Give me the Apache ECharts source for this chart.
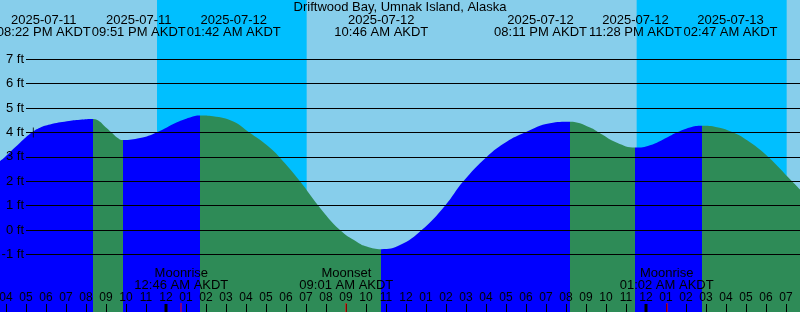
<!DOCTYPE html>
<html><head><meta charset="utf-8">
<script src="https://cdn.jsdelivr.net/npm/echarts@6/dist/echarts.min.js"></script>
<style>html,body{margin:0;padding:0;background:#87CEEB}#c{width:800px;height:312px}</style>
</head><body><div id="c"></div>
<script>
const chartTitle = 'Driftwood Bay, Umnak Island, Alaska';
const curveTimes = [
'2025-07-11 15:42','2025-07-11 15:57','2025-07-11 16:42','2025-07-11 17:17','2025-07-11 17:42','2025-07-11 18:12','2025-07-11 19:03','2025-07-11 19:42','2025-07-11 20:22',
'2025-07-11 20:42','2025-07-11 20:52','2025-07-11 21:17','2025-07-11 21:33','2025-07-11 21:51',
'2025-07-11 22:42','2025-07-11 23:32','2025-07-12 00:33','2025-07-12 01:12','2025-07-12 01:42',
'2025-07-12 02:21','2025-07-12 03:22','2025-07-12 04:10','2025-07-12 05:02','2025-07-12 05:40','2025-07-12 06:42','2025-07-12 07:37','2025-07-12 08:42','2025-07-12 09:32','2025-07-12 10:02','2025-07-12 10:46',
'2025-07-12 11:42','2025-07-12 12:47','2025-07-12 13:57','2025-07-12 14:52','2025-07-12 16:02','2025-07-12 17:02','2025-07-12 17:57','2025-07-12 19:12','2025-07-12 20:11',
'2025-07-12 21:12','2025-07-12 21:42','2025-07-12 22:33','2025-07-12 23:28',
'2025-07-13 00:12','2025-07-13 01:03','2025-07-13 01:32','2025-07-13 02:12','2025-07-13 02:47',
'2025-07-13 03:33','2025-07-13 04:22','2025-07-13 05:12','2025-07-13 06:07','2025-07-13 07:18','2025-07-13 07:42'];
const curveLevels = [2.83,3.0,3.58,4.0,4.20,4.33,4.46,4.52,4.55,
4.44,4.31,4.0,3.80,3.69,
3.77,4.0,4.42,4.62,4.70,
4.67,4.45,4.0,3.49,3.0,2.0,1.0,0.0,-0.48,-0.68,-0.79,
-0.62,0.0,1.0,2.0,3.0,3.62,4.0,4.38,4.44,
4.21,3.97,3.58,3.38,
3.48,3.80,4.0,4.21,4.28,
4.22,4.0,3.60,3.0,2.0,1.66];
const tideTimes = ['2025-07-11 20:22','2025-07-11 21:51','2025-07-12 01:42','2025-07-12 10:46','2025-07-12 20:11','2025-07-12 23:28','2025-07-13 02:47'];
const tideTypes = ['H','L','H','L','H','L','H'];
const nightStarts = ['2025-07-11 23:33','2025-07-12 23:32'];
const nightEnds = ['2025-07-12 07:02','2025-07-13 07:02'];
const moonTimes = ['2025-07-12 00:46','2025-07-12 09:01','2025-07-13 01:02'];
const moonEvents = ['Moonrise','Moonset','Moonrise'];
const midnights = ['2025-07-12 00:00','2025-07-13 00:00'];
const nowPoint = ['2025-07-11 17:22', 4.0];
const timeMin = '2025-07-11 15:42', timeMax = '2025-07-13 07:42';
const unitSuffix = ' ft', zoneName = 'AKDT';

const ts = s => new Date(s.replace(' ', 'T')).getTime();
const pad = n => (n < 10 ? '0' : '') + n;
function fmtTime(v) {
  const d = new Date(v); let h = d.getHours(); const ap = h < 12 ? 'AM' : 'PM';
  h = h % 12 || 12; return pad(h) + ':' + pad(d.getMinutes()) + ' ' + ap + ' ' + zoneName;
}
const FONT = '"Liberation Sans", Arial, Helvetica, sans-serif';
const BLUE = '#0000FF', GREEN = '#2E8B57', NIGHT = '#00BFFF', SKY = '#87CEEB';

const tideTs = tideTimes.map(ts);
const pieces = [];
for (let i = 0; i < tideTs.length; i++) {
  const p = { lt: tideTs[i], color: tideTypes[i] === 'H' ? BLUE : GREEN };
  if (i > 0) p.gte = tideTs[i - 1];
  pieces.push(p);
}
pieces.push({ gte: tideTs[tideTs.length - 1], color: tideTypes[tideTs.length - 1] === 'H' ? GREEN : BLUE });

function spread(xs, W) {
  let cl = xs.map((x, i) => ({ idx: [i], sum: x }));
  let changed = true;
  while (changed) {
    changed = false;
    for (let k = 0; k < cl.length - 1; k++) {
      const a = cl[k], b = cl[k + 1];
      const ac = a.sum / a.idx.length, bc = b.sum / b.idx.length;
      if (ac + a.idx.length * W / 2 > bc - b.idx.length * W / 2) {
        cl.splice(k, 2, { idx: a.idx.concat(b.idx), sum: a.sum + b.sum }); changed = true; break;
      }
    }
  }
  const out = [];
  cl.forEach(c => { const n = c.idx.length, cen = c.sum / n; c.idx.forEach((i, j) => { out[i] = cen + (j - (n - 1) / 2) * W; }); });
  return out;
}

const chart = echarts.init(document.getElementById('c'), null, { renderer: 'canvas' });
const txt = (text, x, y) => ({ type: 'text', style: { text, x, y, textAlign: 'center', textVerticalAlign: 'middle', font: '13px ' + FONT, fill: '#000' } });

chart.setOption({
  backgroundColor: SKY,
  animation: false,
  title: { text: chartTitle, left: 'center', top: 0, padding: 0, textStyle: { fontSize: 13, fontWeight: 'normal', color: '#000', fontFamily: FONT, lineHeight: 14 } },
  grid: [
    { left: 0, right: 0, top: 0, bottom: 0, containLabel: false, outerBoundsMode: 'none' },
    { left: 26, right: 0, top: 59.3, bottom: 57.7, containLabel: false, outerBoundsMode: 'none' }
  ],
  xAxis: [
    { type: 'time', gridIndex: 0, min: timeMin, max: timeMax, minInterval: 3600000, maxInterval: 3600000, z: 5,
      axisLine: { show: false, onZero: false }, splitLine: { show: false },
      axisTick: { show: true, inside: true, length: 8, lineStyle: { color: '#000', width: 1 } },
      axisLabel: { inside: true, margin: 8, color: '#000', fontSize: 12, fontFamily: FONT, hideOverlap: false,
        formatter: v => { const d = new Date(v); if (d.getMinutes() !== 0) return ''; return pad(d.getHours() % 12 || 12); } } },
    { type: 'value', gridIndex: 1, min: 0, max: 1, show: false, axisLine: { onZero: false } }
  ],
  yAxis: [
    { type: 'value', gridIndex: 0, min: -3.364, max: 9.436, show: false, splitLine: { show: false } },
    { type: 'value', gridIndex: 1, min: -1, max: 7, interval: 1, z: 5,
      axisLine: { show: false, onZero: false }, axisTick: { show: false },
      axisLabel: { formatter: '{value}' + unitSuffix, margin: 2, color: '#000', fontSize: 13, fontFamily: FONT },
      splitLine: { show: true, lineStyle: { color: '#000', width: 1 } } }
  ],
  visualMap: { type: 'piecewise', show: false, dimension: 0, seriesIndex: 1, pieces },
  series: [
    { type: 'line', xAxisIndex: 0, yAxisIndex: 0, data: [], z: 1, silent: true,
      markArea: { silent: true, itemStyle: { color: NIGHT, opacity: 1 },
        data: nightStarts.map((s, i) => [{ xAxis: ts(s) }, { xAxis: ts(nightEnds[i]) }]) } },
    { type: 'line', xAxisIndex: 0, yAxisIndex: 0, z: 2, silent: true, symbol: 'none', smooth: 0.45,
      data: curveTimes.map((t, i) => [ts(t), curveLevels[i]]),
      lineStyle: { width: 0 }, areaStyle: { opacity: 1, origin: 'start' } },
    { type: 'custom', xAxisIndex: 0, yAxisIndex: 0, z: 6, silent: true,
      data: midnights.map(s => [ts(s), 0]),
      renderItem: (params, api) => {
        const x = api.coord([api.value(0), 0])[0]; const cs = params.coordSys; const b = cs.y + cs.height;
        return { type: 'rect', shape: { x: Math.round(x) - 1.5, y: b - 8, width: 3, height: 8 }, style: { fill: '#000' } };
      } },
    { type: 'custom', xAxisIndex: 0, yAxisIndex: 0, z: 6, silent: true,
      data: moonTimes.map(s => [ts(s), 0]),
      renderItem: (params, api) => {
        const i = params.dataIndex;
        const x = api.coord([api.value(0), 0])[0]; const cs = params.coordSys; const b = cs.y + cs.height;
        return { type: 'group', children: [
          { type: 'rect', shape: { x: Math.round(x) - 0.5, y: b - 9, width: 1, height: 9 }, style: { fill: '#FF0000' } },
          txt(moonEvents[i], x, b - 39),
          txt(fmtTime(api.value(0)), x, b - 27)
        ] };
      } },
    { type: 'custom', xAxisIndex: 0, yAxisIndex: 0, z: 6, silent: true,
      data: tideTs.map(t => [t, 0]),
      renderItem: (params, api) => {
        const i = params.dataIndex;
        const xs = tideTs.map(t => api.coord([t, 0])[0]);
        const pos = spread(xs, 95);
        const cs = params.coordSys;
        const d = new Date(tideTs[i]);
        const dateStr = d.getFullYear() + '-' + pad(d.getMonth() + 1) + '-' + pad(d.getDate());
        return { type: 'group', children: [ txt(dateStr, pos[i], cs.y + 20), txt(fmtTime(tideTs[i]), pos[i], cs.y + 32) ] };
      } },
    { type: 'scatter', xAxisIndex: 0, yAxisIndex: 0, z: 7, silent: true,
      symbol: 'path://M0,4.5H10V5.5H0ZM4.5,0H5.5V10H4.5Z', symbolSize: [10, 10],
      itemStyle: { color: '#000' }, data: [[ts(nowPoint[0]), nowPoint[1]]] }
  ]
});
</script></body></html>
